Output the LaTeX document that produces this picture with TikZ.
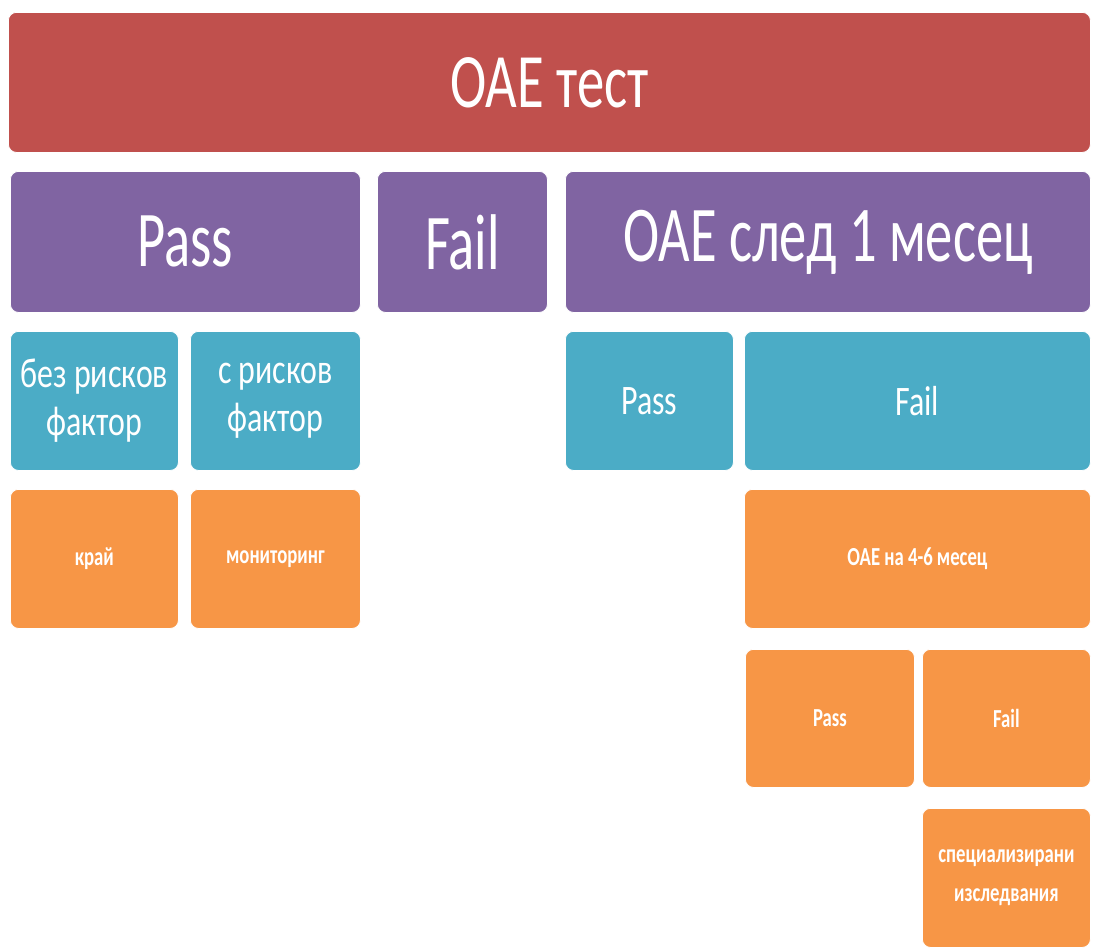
\documentclass[tikz,border=0pt]{standalone}
\usepackage{fontspec}
\setmainfont{Carlito}[FakeStretch=0.66]
\newfontfamily\titlefont{Carlito}[FakeStretch=0.71]
\newfontfamily\stepfont{Carlito}[FakeStretch=0.69]
\newfontfamily\riskfont{Carlito}[FakeStretch=0.76]
\newfontfamily\leaffont{Carlito}[FakeStretch=0.72]
\usetikzlibrary{positioning}
\definecolor{oaeRed}{HTML}{C0504D}
\definecolor{oaePurple}{HTML}{8064A2}
\definecolor{oaeTeal}{HTML}{4BACC6}
\definecolor{oaeOrange}{HTML}{F79646}
\tikzset{
  blk/.style={rectangle, rounded corners=8pt, draw=white, line width=0.8pt,
    text=white, align=center, inner sep=0pt, anchor=north west},
  lvlA/.style={blk, fill=oaeRed, font=\titlefont\fontsize{77}{92}\selectfont},
  lvlB/.style={blk, fill=oaePurple, font=\stepfont\fontsize{79}{95}\selectfont},
  lvlC/.style={blk, fill=oaeTeal, font=\riskfont\fontsize{42}{48}\selectfont},
  lvlD/.style={blk, fill=oaeOrange, font=\leaffont\bfseries\fontsize{26}{39}\selectfont},
}
\begin{document}
\begin{tikzpicture}[x=1pt, y=-1pt]
    \useasboundingbox (0,0) rectangle (1096,950);
    % top row
    \node[lvlA, minimum width=1082pt, minimum height=140pt]
      (test) at (8,12) {OAE тест};
    % first result
    \node[lvlB, minimum width=350pt, minimum height=141pt]
      (pass) at (10,171) {Pass};
    \node[lvlB, minimum width=170pt, minimum height=141pt]
      (fail) at (377,171) {Fail};
    \node[lvlB, minimum width=525pt, minimum height=141pt]
      (month) at (565,171) {OAE след 1 месец};
    % risk factors and retest
    \node[lvlC, minimum width=168pt, minimum height=139pt]
      (norisk) at (10,331) {без рисков\\фактор};
    \node[lvlC, minimum width=170pt, minimum height=139pt]
      (risk) at (190,331) {с рисков\\фактор};
    \node[lvlC, minimum width=168pt, minimum height=139pt]
      (mpass) at (565,331) {Pass};
    \node[lvlC, minimum width=346pt, minimum height=139pt]
      (mfail) at (744,331) {Fail};
    % follow-up
    \node[lvlD, minimum width=168pt, minimum height=139pt]
      (end) at (10,489) {край};
    \node[lvlD, minimum width=170pt, minimum height=139pt]
      (monitor) at (190,489) {мониторинг};
    \node[lvlD, minimum width=346pt, minimum height=139pt]
      (later) at (744,489) {OAE на 4-6 месец};
    \node[lvlD, minimum width=169pt, minimum height=138pt]
      (lpass) at (745,649) {Pass};
    \node[lvlD, minimum width=168pt, minimum height=138pt]
      (lfail) at (922,649) {Fail};
    \node[lvlD, minimum width=168pt, minimum height=139pt]
      (special) at (922,808) {специализирани\\изследвания};
  \end{tikzpicture}
\end{document}
